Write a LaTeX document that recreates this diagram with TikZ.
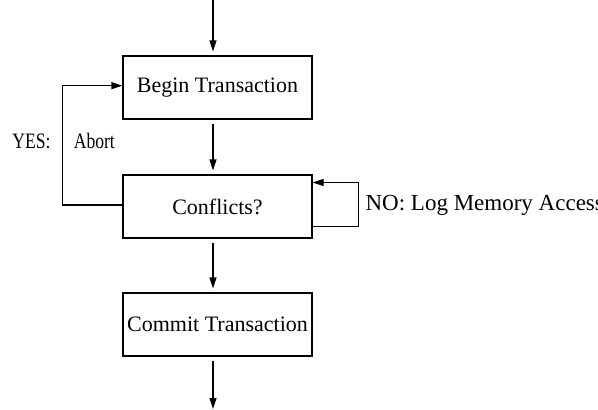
\documentclass[tikz,border=0pt]{standalone}
\usepackage{fontspec}
\setmainfont{Liberation Serif}
\usetikzlibrary{arrows.meta}

\begin{document}
\begin{tikzpicture}[x=1pt, y=-1pt, line width=1.2pt,
  >={Triangle[length=11pt,width=7pt]},
  every node/.style={font=\fontsize{22}{26}\selectfont},
  box/.style={draw, minimum width=189pt, minimum height=63pt, inner sep=0pt}]

\useasboundingbox (0,0) rectangle (598,410);
\clip (0,0) rectangle (598,410);

\node[box] (begin) at (217.5,87.5) {Begin Transaction};
\node[box] (conflicts) at (217.5,206.5) {Conflicts?};
\node[box] (commit) at (217.5,324.5) {Commit Transaction};

\coordinate (start) at (213,0);
\coordinate (finish) at (213,410);

\draw[->, shorten >=4pt] (start) to ([xshift=-4.5pt]begin.north);
\draw[->, shorten <=4pt, shorten >=4pt] ([xshift=-4.5pt]begin.south) to ([xshift=-4.5pt]conflicts.north);
\draw[->, shorten <=4pt, shorten >=4pt] ([xshift=-4.5pt]conflicts.south) to ([xshift=-4.5pt]commit.north);
\draw[->, shorten <=4pt, shorten >=1pt] ([xshift=-4.5pt]commit.south) to (finish);

% abort loop
\draw[->] ([yshift=1.5pt]conflicts.west) -- ++(-60,0) |- ([yshift=1.8pt]begin.west);
\node[anchor=base west, inner sep=0pt, xscale=0.8, transform shape] (yeslbl) at (12,148) {YES:\hspace{29pt}Abort};

% logging loop
\draw[->] ([yshift=-20pt]conflicts.east) -- ++(46,0) |- ([yshift=24pt]conflicts.east);
\node[anchor=base west, inner sep=0pt, font=\fontsize{23}{27}\selectfont] (nolbl) at (365,210) {NO: Log Memory Access};

\end{tikzpicture}
\end{document}
